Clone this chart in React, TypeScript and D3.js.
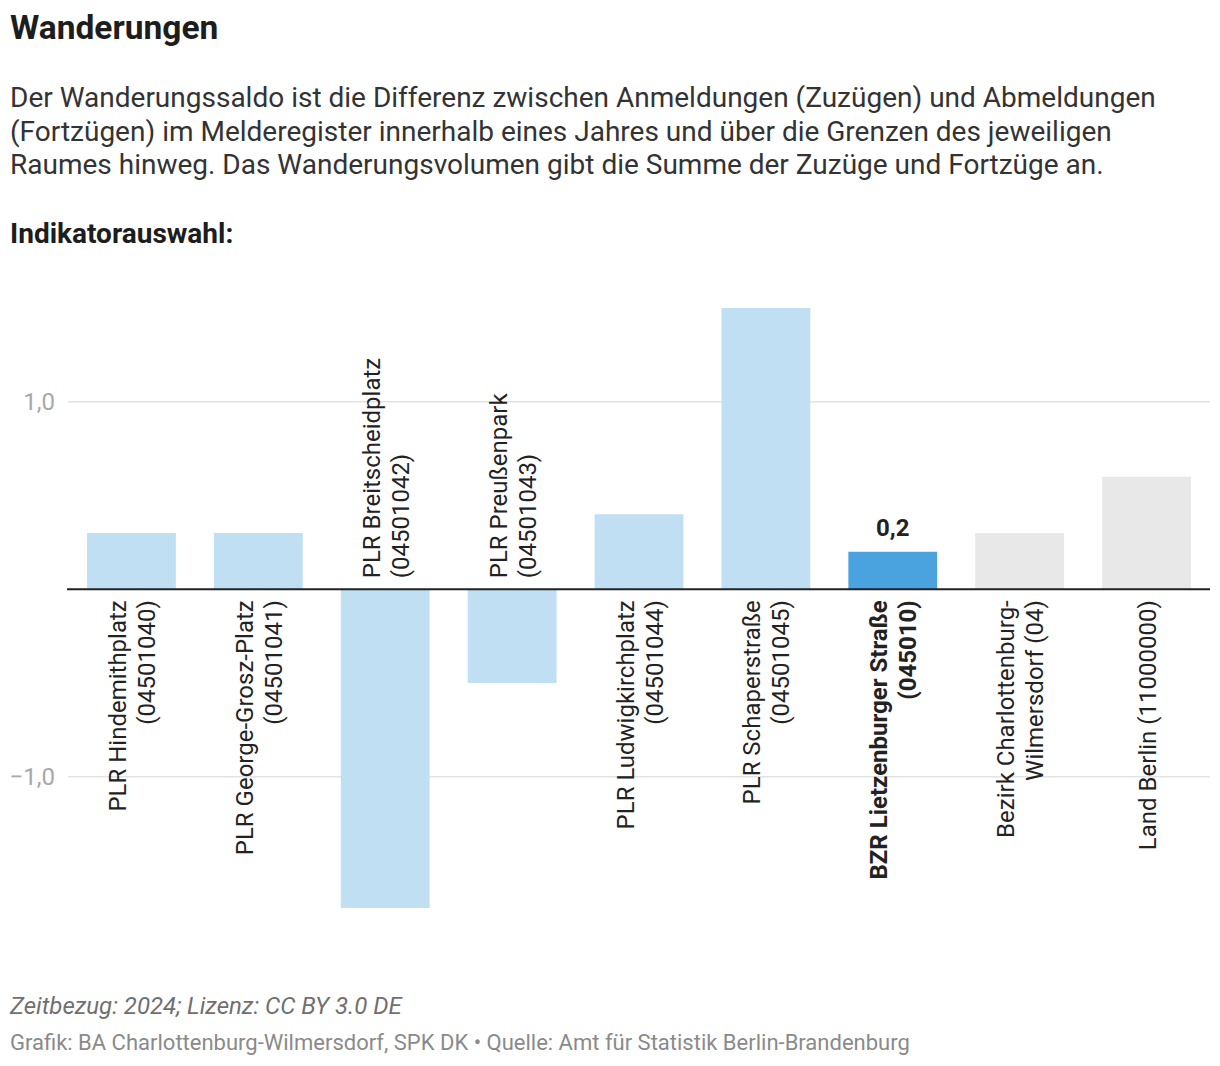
import React from "react";
import * as d3 from "d3";

const title = "Wanderungen";
const descriptionLines = [
  "Der Wanderungssaldo ist die Differenz zwischen Anmeldungen (Zuzügen) und Abmeldungen",
  "(Fortzügen) im Melderegister innerhalb eines Jahres und über die Grenzen des jeweiligen",
  "Raumes hinweg. Das Wanderungsvolumen gibt die Summe der Zuzüge und Fortzüge an.",
];
const subtitle = "Indikatorauswahl:";
const footerNote = "Zeitbezug: 2024; Lizenz: CC BY 3.0 DE";
const footerSource =
  "Grafik: BA Charlottenburg-Wilmersdorf, SPK DK • Quelle: Amt für Statistik Berlin-Brandenburg";

const categories = [
  "PLR Hindemithplatz (04501040)",
  "PLR George-Grosz-Platz (04501041)",
  "PLR Breitscheidplatz (04501042)",
  "PLR Preußenpark (04501043)",
  "PLR Ludwigkirchplatz (04501044)",
  "PLR Schaperstraße (04501045)",
  "BZR Lietzenburger Straße (045010)",
  "Bezirk Charlottenburg-Wilmersdorf (04)",
  "Land Berlin (11000000)",
];
const categoryLines = [
  ["PLR Hindemithplatz", "(04501040)"],
  ["PLR George-Grosz-Platz", "(04501041)"],
  ["PLR Breitscheidplatz", "(04501042)"],
  ["PLR Preußenpark", "(04501043)"],
  ["PLR Ludwigkirchplatz", "(04501044)"],
  ["PLR Schaperstraße", "(04501045)"],
  ["BZR Lietzenburger Straße", "(045010)"],
  ["Bezirk Charlottenburg-", "Wilmersdorf (04)"],
  ["Land Berlin (11000000)"],
];
const values = [0.3, 0.3, -1.7, -0.5, 0.4, 1.5, 0.2, 0.3, 0.6];
const kinds = ["plr", "plr", "plr", "plr", "plr", "plr", "bzr", "ref", "ref"];
const yTicks = [-1, 1];

const kindColor: Record<string, string> = {
  plr: "#c1dff3",
  bzr: "#4aa3de",
  ref: "#e8e8e8",
};

const de = d3.formatLocale({
  decimal: ",",
  thousands: ".",
  grouping: [3],
  currency: ["", " €"],
  minus: "\u2212",
});
const fmt = de.format(".1f");

export default function App() {
  const W = 1220;
  const H = 1066;
  const font = "Roboto, 'Noto Sans', sans-serif";

  const x = d3
    .scaleBand<string>()
    .domain(categories)
    .range([68, 1210])
    .paddingInner(0.3)
    .paddingOuter(0.15);
  const y = d3.scaleLinear().domain([-1.7, 1.5]).range([908, 308]);
  const y0 = y(0);
  const bw = x.bandwidth();
  const lineH = 29;

  return (
    <svg
      width={W}
      height={H}
      style={{ position: "absolute", left: 0, top: 0, background: "#fff" }}
      fontFamily={font}
    >
      <text x={10} y={39} fontSize={33.5} fontWeight={700} fill="#1d1d1d">
        {title}
      </text>
      {descriptionLines.map((l, i) => (
        <text key={i} x={10} y={107 + i * 33.5} fontSize={28} fill="#333">
          {l}
        </text>
      ))}
      <text x={10} y={243} fontSize={28} fontWeight={700} fill="#1d1d1d">
        {subtitle}
      </text>

      {yTicks.map((t) => (
        <g key={t}>
          <line x1={68} x2={1210} y1={y(t)} y2={y(t)} stroke="#e3e3e3" strokeWidth={1.5} />
          <text
            x={55}
            y={y(t)}
            dy="0.35em"
            textAnchor="end"
            fontSize={24}
            fill="#a8a8a8"
          >
            {fmt(t)}
          </text>
        </g>
      ))}

      {categories.map((c, i) => {
        const v = values[i];
        const bx = x(c)!;
        return (
          <rect
            key={c}
            x={bx}
            y={Math.min(y(v), y0)}
            width={bw}
            height={Math.abs(y(v) - y0)}
            fill={kindColor[kinds[i]]}
          />
        );
      })}

      <line x1={67} x2={1210} y1={y0} y2={y0} stroke="#222" strokeWidth={2} />

      {categories.map((c, i) => {
        const v = values[i];
        const cx = x(c)! + bw / 2;
        const lines = categoryLines[i];
        const n = lines.length;
        const pos = v >= 0;
        const ly = pos ? y0 + 11 : y0 - 11;
        return (
          <g key={c} transform={`translate(${cx},${ly}) rotate(-90)`}>
            {lines.map((l, j) => (
              <text
                key={j}
                x={0}
                y={(j - (n - 1) / 2) * lineH + 9}
                textAnchor={pos ? "end" : "start"}
                fontSize={24}
                fontWeight={kinds[i] === "bzr" ? 700 : 400}
                fill="#222"
              >
                {l}
              </text>
            ))}
          </g>
        );
      })}

      {categories.map((c, i) =>
        kinds[i] === "bzr" ? (
          <text
            key={c}
            x={x(c)! + bw / 2}
            y={y(values[i]) - 16}
            textAnchor="middle"
            fontSize={24}
            fontWeight={700}
            fill="#222"
          >
            {fmt(values[i])}
          </text>
        ) : null
      )}

      <text x={10} y={1013.5} fontSize={24} fontStyle="italic" fill="#707070">
        {footerNote}
      </text>
      <text x={10} y={1050} fontSize={22} fill="#8a8a8a">
        {footerSource}
      </text>
    </svg>
  );
}
